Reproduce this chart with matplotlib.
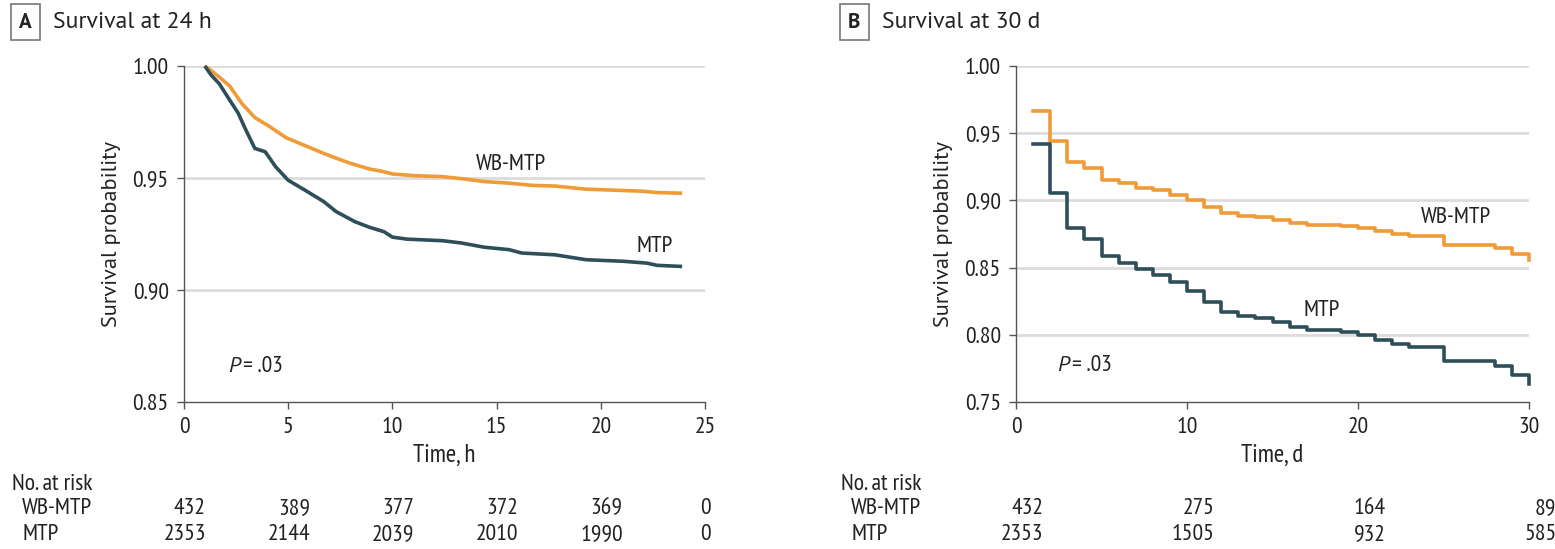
import matplotlib
matplotlib.use("Agg")
import matplotlib.pyplot as plt

plt.rcParams['font.family'] = ['PT Sans Narrow', 'DejaVu Sans']
REG = ['PT Sans', 'DejaVu Sans']

ORANGE = '#EF9B38'
NAVY = '#2E4E5A'
GRID = '#DCDCDC'
AXC = '#555555'
TXT = '#222222'

# Panel A: survival at 24 h
a_time_wb = [1.0, 1.3, 1.7, 2.2, 2.8, 3.4, 4.1, 4.9, 5.8, 6.7, 7.4, 8.0, 8.9, 9.5, 10.0,
             11.1, 12.4, 13.5, 14.4, 15.6, 16.7, 17.8, 19.3, 20.2, 21.1, 22.0, 22.7, 23.9]
a_surv_wb = [1.000, 0.998, 0.995, 0.991, 0.983, 0.977, 0.973, 0.968, 0.9645, 0.961, 0.9585,
             0.9565, 0.954, 0.953, 0.9518, 0.951, 0.9506, 0.9495, 0.9484, 0.9477, 0.9467,
             0.9464, 0.945, 0.9447, 0.9444, 0.9441, 0.9435, 0.9432]
a_time_mtp = [1.0, 1.3, 1.7, 2.2, 2.6, 2.9, 3.4, 3.9, 4.4, 5.0, 5.8, 6.7, 7.3, 8.2, 8.9,
              9.6, 10.0, 10.7, 12.4, 13.3, 14.4, 15.6, 16.2, 17.8, 19.3, 21.1, 22.2, 22.7, 23.9]
a_surv_mtp = [1.000, 0.996, 0.992, 0.9847, 0.979, 0.9728, 0.9632, 0.9617, 0.955, 0.949,
              0.9446, 0.9395, 0.935, 0.9305, 0.928, 0.926, 0.9236, 0.9227, 0.922, 0.921,
              0.9191, 0.918, 0.9165, 0.9157, 0.9135, 0.9128, 0.912, 0.911, 0.9105]

# Panel B: survival at 30 d (step curves, value from day t)
b_days = list(range(1, 31))
b_surv_wb = [0.9664, 0.9444, 0.9283, 0.9238, 0.9152, 0.9127, 0.9095, 0.9075, 0.9043, 0.9001,
             0.8949, 0.8905, 0.8885, 0.8875, 0.8855, 0.8835, 0.8820, 0.8818, 0.8806, 0.8791,
             0.8769, 0.8751, 0.8736, 0.8736, 0.8665, 0.8665, 0.8665, 0.8645, 0.8600, 0.8558]
b_surv_mtp = [0.9416, 0.9053, 0.8793, 0.8712, 0.8583, 0.8534, 0.8489, 0.8447, 0.8390, 0.8323,
              0.8242, 0.8168, 0.8143, 0.8126, 0.8093, 0.8059, 0.8039, 0.8039, 0.8019, 0.8002,
              0.7960, 0.7928, 0.7908, 0.7908, 0.7804, 0.7804, 0.7804, 0.7767, 0.7698, 0.7631]

# numbers at risk
a_risk_t = [0, 5, 10, 15, 20, 25]
a_risk_wb = [432, 389, 377, 372, 369, 0]
a_risk_mtp = [2353, 2144, 2039, 2010, 1990, 0]
b_risk_t = [0, 10, 20, 30]
b_risk_wb = [432, 275, 164, 89]
b_risk_mtp = [2353, 1505, 932, 585]

fig = plt.figure(figsize=(15.55, 5.49), dpi=100)
axA = fig.add_axes([0.1183, 0.2678, 0.3351, 0.612])
axB = fig.add_axes([0.6534, 0.2678, 0.3299, 0.612])


def style(ax, yticks, xticks, xlim, ylim, xlabel):
    ax.set_xlim(*xlim)
    ax.set_ylim(*ylim)
    ax.set_yticks(yticks)
    ax.set_yticklabels([f"{v:.2f}" for v in yticks])
    ax.set_xticks(xticks)
    for s in ['top', 'right']:
        ax.spines[s].set_visible(False)
    for s in ['left', 'bottom']:
        ax.spines[s].set_color(AXC)
        ax.spines[s].set_linewidth(1.0)
    ax.tick_params(colors=AXC, labelcolor=TXT, labelsize=17, length=5, width=1, pad=6)
    for y in yticks[1:]:
        ax.axhline(y, color=GRID, lw=2, zorder=0)
    ax.set_ylabel('Survival probability', fontsize=16, family=REG, color=TXT, labelpad=8)
    ax.set_xlabel(xlabel, fontsize=18, color=TXT, labelpad=4)


style(axA, [0.85, 0.90, 0.95, 1.00], [0, 5, 10, 15, 20, 25], (0, 25), (0.85, 1.0), 'Time, h')
style(axB, [0.75, 0.80, 0.85, 0.90, 0.95, 1.00], [0, 10, 20, 30], (0, 30), (0.75, 1.0), 'Time, d')

axA.plot(a_time_wb, a_surv_wb, color=ORANGE, lw=2.6, solid_capstyle='butt', clip_on=False)
axA.plot(a_time_mtp, a_surv_mtp, color=NAVY, lw=2.6, solid_capstyle='butt', clip_on=False)

bx = b_days + [30]
axB.step(bx, b_surv_wb + [b_surv_wb[-1]], where='post', color=ORANGE, lw=2.6, clip_on=False)
axB.step(bx, b_surv_mtp + [b_surv_mtp[-1]], where='post', color=NAVY, lw=2.6, clip_on=False)


def ptext(ax, x, y):
    ax.text(x, y, 'P', fontsize=16, style='italic', family=REG, ha='left', va='center', color=TXT)
    ax.annotate('= .03', (x, y), xytext=(11, 0), textcoords='offset points',
                fontsize=17, ha='left', va='center', color=TXT)


axA.text(15.7, 0.9558, 'WB-MTP', fontsize=17, ha='center', va='center', color=TXT)
axA.text(22.6, 0.9192, 'MTP', fontsize=17, ha='center', va='center', color=TXT)
ptext(axA, 2.1, 0.866)

axB.text(25.7, 0.887, 'WB-MTP', fontsize=17, ha='center', va='center', color=TXT)
axB.text(17.9, 0.8177, 'MTP', fontsize=17, ha='center', va='center', color=TXT)
ptext(axB, 2.4, 0.777)

# panel titles
for x0, letter, title in [(19, 'A', 'Survival at 24 h'), (848, 'B', 'Survival at 30 d')]:
    fig.text(x0 / 1555, 1 - 22 / 549, letter, fontsize=15, fontweight='bold', ha='left', va='center',
             family=REG, color=TXT,
             bbox=dict(boxstyle='square,pad=0.4', fc='white', ec='#777777', lw=1.2))
    fig.text((x0 + 34) / 1555, 1 - 22 / 549, title, fontsize=17, ha='left', va='center',
             family=REG, color=TXT)


# number at risk tables
def risk_table(ax, x0, ts, wb, mtp, off):
    fig.text(x0 / 1555, 1 - 484 / 549, 'No. at risk', fontsize=17, ha='left', va='center', color=TXT)
    fig.text((x0 + 10) / 1555, 1 - 509 / 549, 'WB-MTP', fontsize=17, ha='left', va='center', color=TXT)
    fig.text((x0 + 10) / 1555, 1 - 535 / 549, 'MTP', fontsize=17, ha='left', va='center', color=TXT)
    tr = ax.get_xaxis_transform()
    for t, w, m in zip(ts, wb, mtp):
        xx = t + off if w != 0 else t
        ha = 'right' if w != 0 else 'center'
        ax.text(xx, -(509 - 402) / 336, str(w), transform=tr, fontsize=17, ha=ha, va='center',
                color=TXT, clip_on=False)
        ax.text(xx, -(535 - 402) / 336, str(m), transform=tr, fontsize=17, ha=ha, va='center',
                color=TXT, clip_on=False)


risk_table(axA, 12, a_risk_t, a_risk_wb, a_risk_mtp, 1.05)
risk_table(axB, 841, b_risk_t, b_risk_wb, b_risk_mtp, 1.6)

fig.savefig('out.png', dpi=100)
